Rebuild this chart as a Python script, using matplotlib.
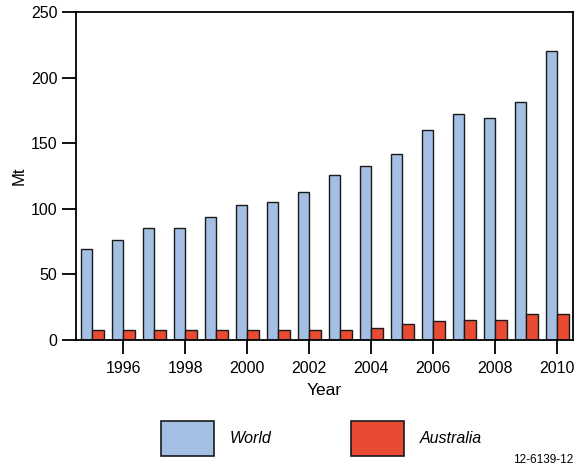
import numpy as np
import matplotlib.pyplot as plt

plt.rcParams['font.family'] = ['Liberation Sans', 'DejaVu Sans']

years = np.arange(1995, 2011)
world = [69.5, 76, 85, 85, 93.5, 103, 105, 113, 125.5, 132.5, 142, 160, 172, 169, 181, 220]
australia = [7.5, 7.5, 7.5, 7.5, 7.5, 7.5, 7.5, 7.5, 7.5, 9.5, 12, 14.5, 15.5, 15.5, 19.5, 19.5]
tick_years = [1996, 1998, 2000, 2002, 2004, 2006, 2008, 2010]

blue = '#a3c0e4'
red = '#e84a32'
w = 0.37

fig = plt.figure(figsize=(5.79, 4.70), dpi=100)
ax = fig.add_axes([0.1313, 0.2766, 0.8577, 0.698])

ax.bar(years - w / 2, world, width=w, color=blue, edgecolor='#1a1a1a', linewidth=1, label='World')
ax.bar(years + w / 2, australia, width=w, color=red, edgecolor='#1a1a1a', linewidth=1, label='Australia')

ax.set_xlim(1994.47, 2010.5)
ax.set_ylim(0, 250)
ax.set_yticks([0, 50, 100, 150, 200, 250])
ax.set_xticks(tick_years)
ax.tick_params(axis='both', direction='out', length=10, width=1.3, labelsize=11.5)
ax.tick_params(axis='x', pad=5)
for s in ax.spines.values():
    s.set_linewidth(1.3)

ax.set_ylabel('Mt', fontsize=12)
ax.yaxis.set_label_coords(-0.1, 0.5)
ax.set_xlabel('Year', fontsize=12.5, labelpad=5)

leg = fig.legend(loc='center', bbox_to_anchor=(0.555, 0.068), ncol=2, frameon=False,
                 handlelength=3.3, handleheight=3.0, handletextpad=1.0,
                 columnspacing=5.0, prop={'style': 'italic', 'size': 11.5})
for p in leg.get_patches():
    p.set_linewidth(1.2)

fig.text(0.99, 0.008, '12-6139-12', ha='right', va='bottom', fontsize=8.5)

fig.savefig('out.png', dpi=100)
